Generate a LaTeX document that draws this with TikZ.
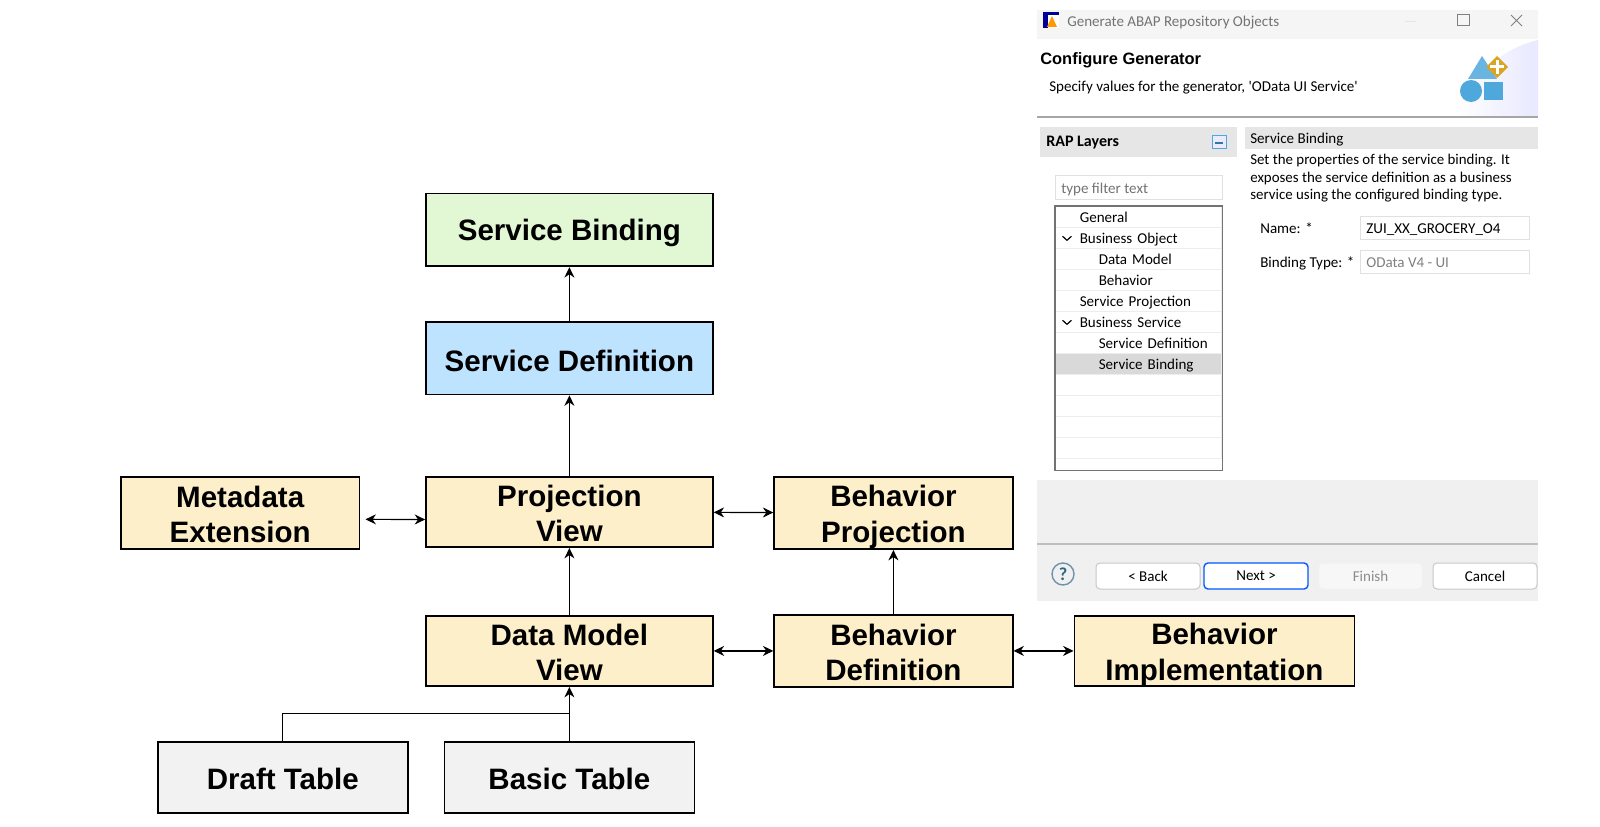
\documentclass[tikz,border=0pt]{standalone}
\usepackage{fontspec}
\setmainfont{Liberation Sans}
\newfontfamily\dlgfont{Carlito}
\usetikzlibrary{arrows.meta,positioning}
\definecolor{cream}{HTML}{FDEFCA}
\definecolor{mint}{HTML}{E2F8D5}
\definecolor{sky}{HTML}{BEE3FF}
\definecolor{tablegray}{HTML}{F2F2F2}
\definecolor{panelgray}{HTML}{F0F0F0}
\definecolor{headgray}{HTML}{E6E6E6}
\definecolor{iconblue}{HTML}{4FA8DC}
\newcommand{\dlgsize}{\fontsize{10.7}{12}\selectfont}
\newcommand{\boxstrut}[2]{\rule[-#1]{0pt}{#2}}

\begin{document}
\begin{tikzpicture}[
  x=0.25mm, y=-0.25mm,
  box/.style={draw, line width=0.45mm, align=center, inner sep=0pt, font=\fontsize{21}{25.5}\selectfont\bfseries},
  two/.style={box, fill=cream, execute at begin node=\boxstrut{3.2pt}{49pt}},
  wide/.style={box, execute at begin node=\boxstrut{1.3pt}{21pt}, minimum width=71.7mm, minimum height=18.2mm},
  layer/.style={two, minimum width=71.7mm, minimum height=17.6mm},
  side/.style={two, minimum width=59.6mm, minimum height=18.1mm},
  tbl/.style={box, execute at begin node=\boxstrut{1.3pt}{19.5pt}, fill=tablegray, minimum width=62.5mm, minimum height=17.6mm},
  arr/.style={-{Stealth[length=2.6mm,width=2.5mm]}, line width=0.3mm},
  biarr/.style={{Stealth[length=2.6mm,width=2.5mm]}-{Stealth[length=2.6mm,width=2.5mm]}, line width=0.3mm},
  conn/.style={line width=0.3mm},
  lbl/.style={anchor=west, inner sep=0pt, text height=9.4pt, text depth=2pt, font=\dlgfont\dlgsize},
  treerow/.style={draw=black!7, line width=0.2mm, fill=white, anchor=north, minimum width=41.5mm, text width=41.5mm, minimum height=5.25mm, text height=9.4pt, text depth=2pt, inner sep=0pt, outer sep=0pt, align=left, font=\dlgfont\dlgsize},
  field/.style={draw=black!12, line width=0.25mm, fill=white, anchor=west, minimum width=42.25mm, minimum height=5.75mm, inner sep=0pt},
  btn/.style={draw=black!22, line width=0.25mm, fill=white, rounded corners=1mm, minimum width=26mm, minimum height=6.5mm, inner sep=0pt, font=\dlgfont\dlgsize}
]
\useasboundingbox (0,0) rectangle (1600,826);

% layers
\node[layer] (projview) at (569.4,511.9) {Projection\\View};
\node[wide, fill=sky, above=20.1mm of projview] (svcdef) {Service Definition};
\node[wide, fill=mint, above=13.4mm of svcdef] (svcbind) {Service Binding};
\node[side, left=16.2mm of projview, yshift=-0.25mm] (metaext) {Metadata\\Extension};
\node[side, right=14.9mm of projview, yshift=-0.25mm] (behproj) {Behavior\\Projection};
\node[layer, below=16.7mm of projview] (dmview) {Data Model\\View};
\node[side, right=14.9mm of dmview] (behdef) {Behavior\\Definition};
\node[two, minimum width=70mm, minimum height=17.6mm, right=15mm of behdef] (behimpl) {Behavior\\Implementation};
\node[tbl, below=13.6mm of dmview] (basic) {Basic Table};
\node[tbl, left=8.7mm of basic] (draft) {Draft Table};
\coordinate[above=6.9mm of basic] (joint);

\draw[arr] (svcdef) -- (svcbind);
\draw[arr] (projview) -- (svcdef);
\draw[arr] (dmview) -- (projview);
\draw[arr] (behdef.north -| behproj) -- (behproj);
\draw[biarr, shorten <=1.3mm] ([yshift=-1.6mm]metaext.east) -- ([yshift=-1.9mm]projview.west);
\draw[biarr] (projview) -- (behproj);
\draw[biarr] (dmview) -- (behdef);
\draw[biarr] (behdef) -- (behimpl);
\draw[arr] (basic) -- (dmview);
\draw[conn] (draft.north) |- (joint);

% dialog
\fill[white] (1037,10) rectangle (1538,601);
\fill[panelgray!70] (1037,10) rectangle (1538,39);
\shade[left color=white, right color=blue!9] (1538,40) .. controls (1495,50) and (1465,85) .. (1455,116) -- (1538,116) -- cycle;
\fill[panelgray] (1037,480) rectangle (1538,601);
\draw[black!35, line width=0.3mm] (1037,117) -- (1538,117);
\draw[black!25, line width=0.3mm] (1037,544) -- (1538,544);

\fill[blue!60!black] (1043,12) rectangle (1059,28);
\fill[white] (1048,15) rectangle (1059,28);
\fill[orange!80!yellow] (1047,27) -- (1052,16) -- (1057,27) -- cycle;
\node[lbl, text=black!55] (title) at (1067,21) {Generate ABAP Repository Objects};
\draw[black!10, line width=0.2mm] (1405,21) -- (1416,21);
\draw[black!50, line width=0.25mm] (1457,15) rectangle (1469,26);
\draw[black!50, line width=0.25mm] (1511,15) -- (1522,26) (1522,15) -- (1511,26);

\node[lbl, font=\fontsize{11.7}{14}\selectfont\bfseries] (cfg) at (1040,59) {Configure Generator};
\node[lbl] (spec) at (1049,86) {Specify values for the generator, 'OData UI Service'};

\fill[iconblue!85] (1482,56) -- (1497,79) -- (1468,79) -- cycle;
\fill[iconblue] (1471,91) circle[radius=11];
\fill[iconblue] (1484,82) rectangle (1503,100);
\fill[yellow!40!orange!85!black] (1497,56) -- (1508,67) -- (1497,78) -- (1486,67) -- cycle;
\fill[white] (1495.5,60) rectangle (1498.5,74);
\fill[white] (1490,65.5) rectangle (1504,68.5);

\fill[headgray] (1040,127) rectangle (1237,157);
\fill[headgray] (1245,127) rectangle (1538,149);
\node[lbl, font=\dlgfont\fontsize{11.4}{13}\selectfont\bfseries] (raplayers) at (1046,141) {RAP Layers};
\draw[iconblue, line width=0.25mm, fill=blue!8] (1212,136) rectangle (1226,149);
\draw[iconblue!70!black, line width=0.3mm] (1215,143) -- (1223,143);
\node[lbl] (sbhead) at (1250,138) {Service Binding};
\node[anchor=north west, inner sep=0pt, align=left, font=\dlgfont\fontsize{10.6}{12.4}\selectfont] (sbtext) at (1250,154) {Set the properties of the service binding. It\\exposes the service definition as a business\\service using the configured binding type.};

\node[field, minimum width=41.75mm] (filter) at (1055,187.5) {};
\node[lbl, text=black!55] (filtertext) at (1061,188) {type filter text};

\node[anchor=north west, minimum width=41.75mm, minimum height=66mm, inner sep=0pt] (tree) at (1055,206) {};
\node[treerow, below=0.2mm of tree.north] (rowgen) {\hspace*{6mm}General};
\node[treerow, below=0mm of rowgen] (rowbo) {\hspace*{6mm}Business Object};
\node[treerow, below=0mm of rowbo] (rowdm) {\hspace*{10.75mm}Data Model};
\node[treerow, below=0mm of rowdm] (rowbh) {\hspace*{10.75mm}Behavior};
\node[treerow, below=0mm of rowbh] (rowsp) {\hspace*{6mm}Service Projection};
\node[treerow, below=0mm of rowsp] (rowbs) {\hspace*{6mm}Business Service};
\node[treerow, below=0mm of rowbs] (rowsd) {\hspace*{10.75mm}Service Definition};
\node[treerow, below=0mm of rowsd, fill=black!15] (rowsb) {\hspace*{10.75mm}Service Binding};
\node[treerow, below=0mm of rowsb] (rowe1) {};
\node[treerow, below=0mm of rowe1] (rowe2) {};
\node[treerow, below=0mm of rowe2] (rowe3) {};
\node[treerow, below=0mm of rowe3] (rowe4) {};
\draw[black!55, line width=0.3mm] (tree.north west) rectangle (tree.south east);
\draw[line width=0.3mm] ([shift={(1.7mm,0.5mm)}]rowbo.west) -- ([shift={(2.8mm,-0.5mm)}]rowbo.west) -- ([shift={(3.9mm,0.5mm)}]rowbo.west);
\draw[line width=0.3mm] ([shift={(1.7mm,0.5mm)}]rowbs.west) -- ([shift={(2.8mm,-0.5mm)}]rowbs.west) -- ([shift={(3.9mm,0.5mm)}]rowbs.west);

\node[lbl] (namelbl) at (1260,228) {Name: *};
\node[field] (namefield) at (1360,227.5) {};
\node[lbl] (nametext) at (1366,228) {ZUI\_XX\_GROCERY\_O4};
\node[lbl] (typelbl) at (1260,262) {Binding Type: *};
\node[field] (typefield) at (1360,261.5) {};
\node[lbl, text=black!50] (typetext) at (1366,262) {OData V4 - UI};

\node[draw=iconblue!60!black!70, line width=0.35mm, circle, minimum size=5.5mm, inner sep=0pt, font=\dlgfont\fontsize{13}{14}\selectfont\bfseries, text=iconblue!60!black] (help) at (1063,574) {?};
\node[btn] (back) at (1148,576) {< Back};
\node[btn, draw=blue!65!cyan, line width=0.35mm] (next) at (1256,576) {Next >};
\node[btn, draw=black!6, fill=black!3, text=black!45] (finish) at (1370.5,576) {Finish};
\node[btn] (cancel) at (1485,576) {Cancel};
\end{tikzpicture}
\end{document}
